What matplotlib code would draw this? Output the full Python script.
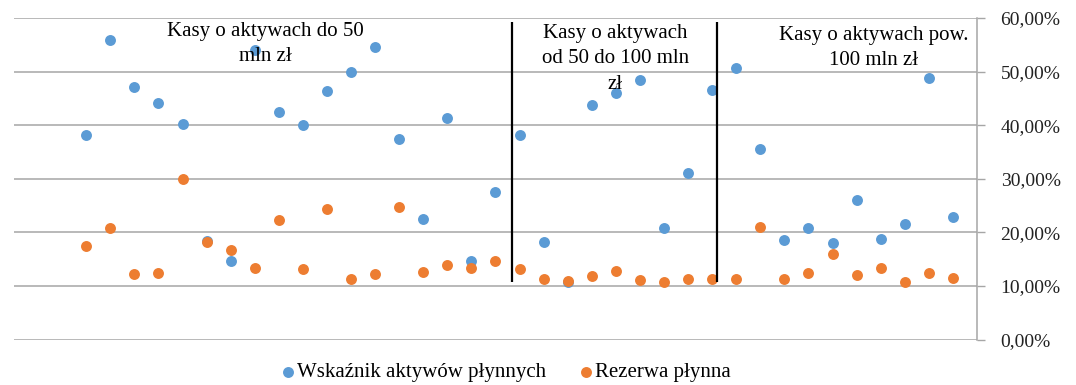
import matplotlib.pyplot as plt
from matplotlib.ticker import FuncFormatter, MultipleLocator

# data - values (in %)
kasy = list(range(1, 38))
wskaznik_aktywow = [38.1, 55.9, 47.1, 44.2, 40.3, 18.4, 14.7, 54.0, 42.5, 40.1,
                    46.3, 49.9, 54.6, 37.4, 22.5, 41.4, 14.7, 27.5, 38.1, 18.2,
                    10.8, 43.8, 46.0, 48.4, 20.9, 31.0, 46.5, 50.7, 35.6, 18.5,
                    20.9, 18.0, 26.0, 18.8, 21.6, 48.8, 22.9]
rezerwa_plynna = [17.4, 20.8, 12.3, 12.5, 29.9, 18.2, 16.8, 13.4, 22.3, 13.1,
                  24.3, 11.3, 12.3, 24.8, 12.6, 13.9, 13.4, 14.7, 13.1, 11.3,
                  10.9, 11.9, 12.9, 11.1, 10.7, 11.4, 11.4, 11.4, 21.0, 11.4,
                  12.4, 15.9, 12.1, 13.4, 10.8, 12.4, 11.5]

group_labels = ["Kasy o aktywach do 50\nmln zł",
                "Kasy o aktywach\nod 50 do 100 mln\nzł",
                "Kasy o aktywach pow.\n100 mln zł"]
group_label_x = [8.44, 22.97, 33.71]
group_label_y = [55.1, 52.4, 54.4]
dividers_x = [18.68, 27.19]

plt.rcParams['font.family'] = ['Liberation Serif', 'DejaVu Serif']

fig = plt.figure(figsize=(10.76, 3.85), dpi=100)
ax = fig.add_axes([0.013, 0.1177, 0.895, 0.8356])

ax.scatter(kasy, wskaznik_aktywow, s=62, color='#5B9BD5', zorder=3,
           label='Wskaźnik aktywów płynnych', linewidths=0)
ax.scatter(kasy, rezerwa_plynna, s=62, color='#ED7D31', zorder=3,
           label='Rezerwa płynna', linewidths=0)

ax.vlines(dividers_x, 10.8, 59.3, color='black', lw=1.6, zorder=4)
for lbl, x, y in zip(group_labels, group_label_x, group_label_y):
    ax.text(x, y, lbl, ha='center', va='center', fontsize=15,
            linespacing=1.45, zorder=5)

ax.set_xlim(-2, 38)
ax.set_ylim(0, 60)
ax.yaxis.set_major_locator(MultipleLocator(10))
ax.yaxis.set_major_formatter(FuncFormatter(lambda v, p: f"{v:.2f}%".replace('.', ',')))
ax.yaxis.tick_right()
ax.tick_params(axis='y', direction='out', length=6, width=1, color='#A6A6A6',
               labelsize=14, pad=11, labelcolor='#222222')
ax.set_xticks([])
ax.grid(axis='y', color='#A6A6A6', lw=1.1, zorder=0)

for side in ['left', 'top', 'bottom']:
    ax.spines[side].set_visible(False)
ax.spines['right'].set_color('#A6A6A6')
ax.spines['right'].set_linewidth(1.1)

fig.legend(loc='center', bbox_to_anchor=(505 / 1076, 1 - 372.7 / 385), ncol=2,
           frameon=False, fontsize=15, handletextpad=0.05, columnspacing=1.5,
           handlelength=0.8, markerscale=1.0)

plt.savefig('out.png', dpi=100)
